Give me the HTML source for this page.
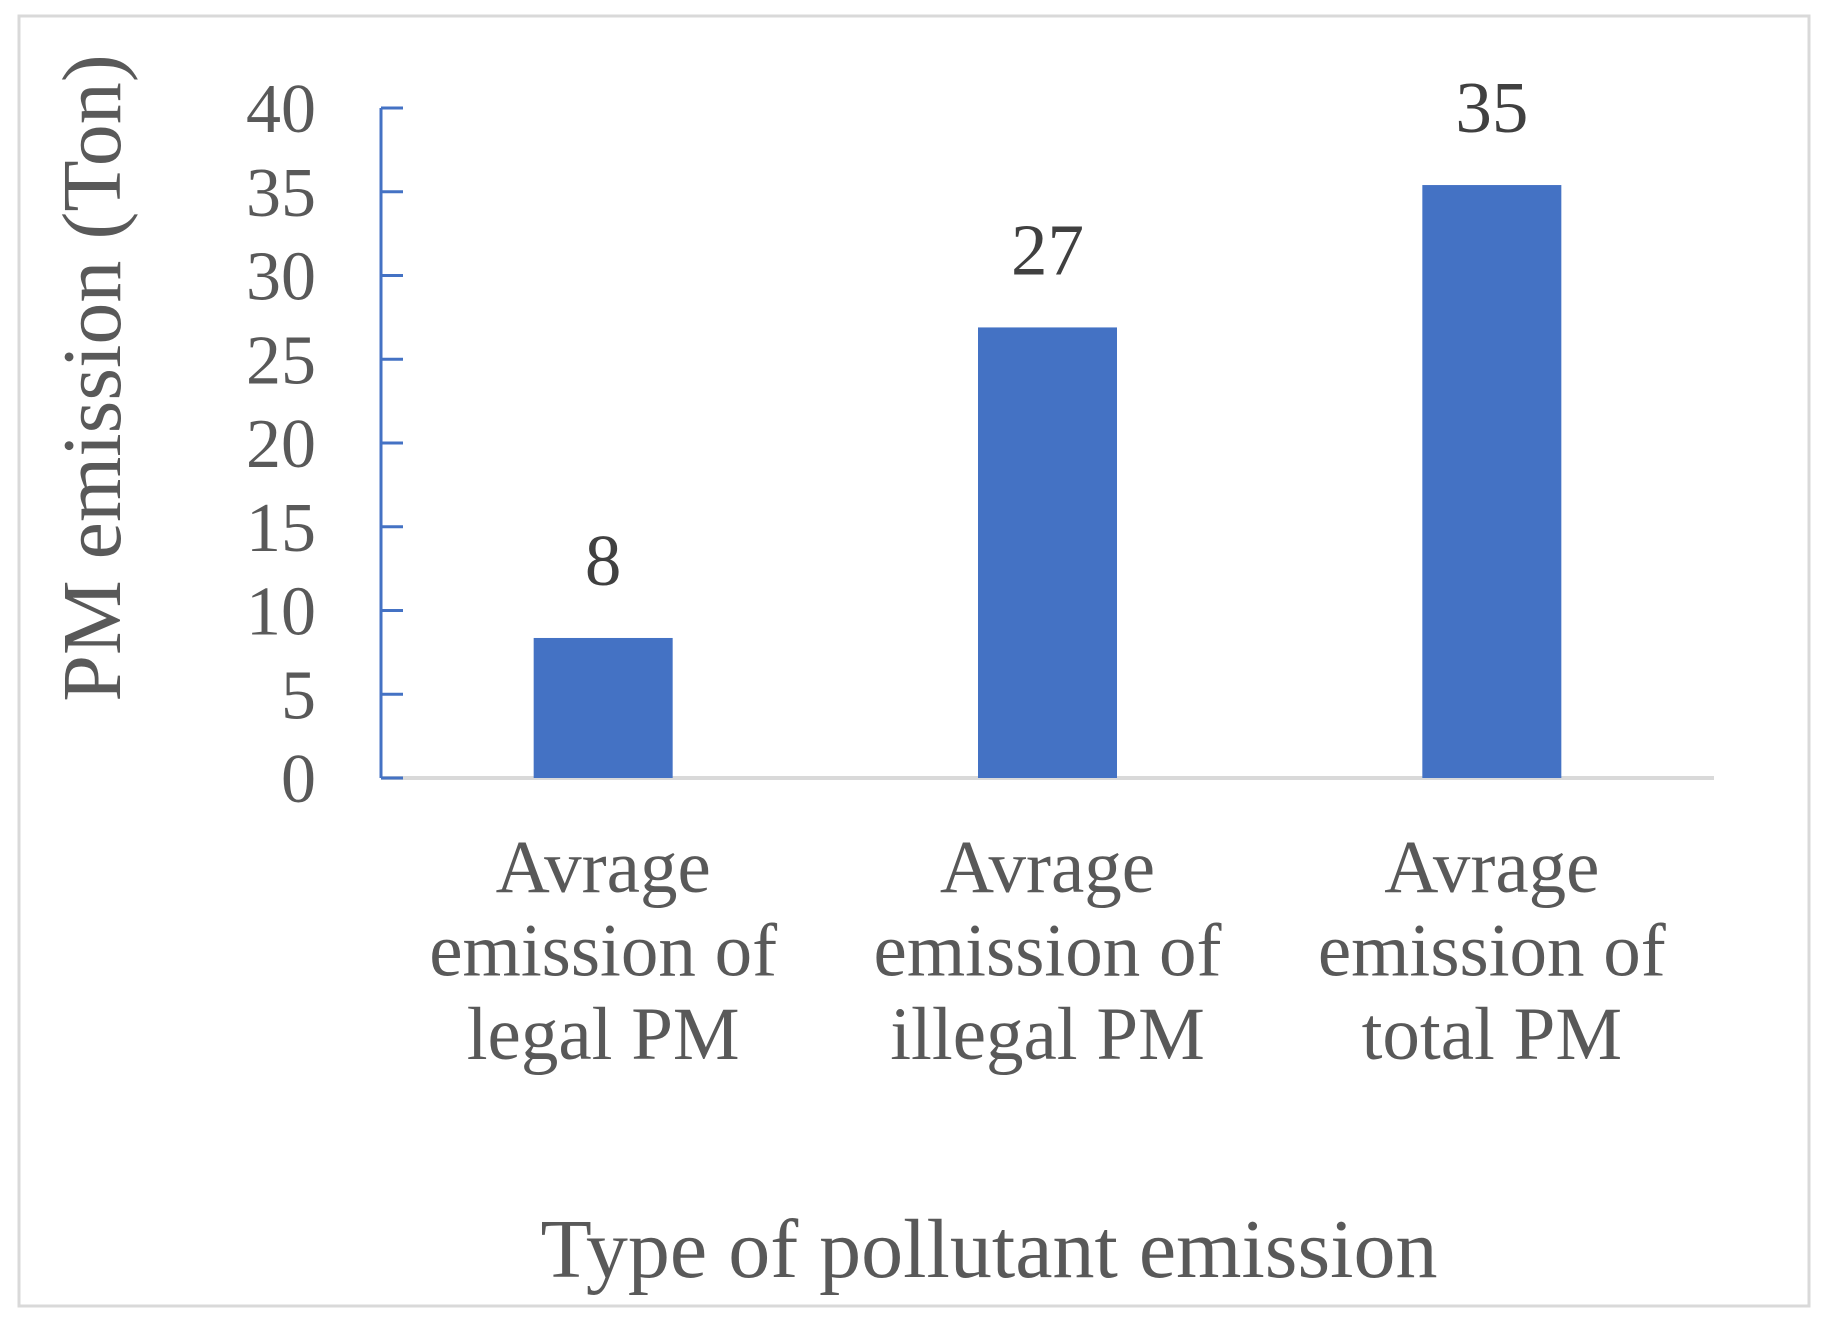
<!DOCTYPE html>
<html><head><meta charset="utf-8"><style>
html,body{margin:0;padding:0;background:#fff}
svg{display:block}
text{font-family:"Liberation Serif",serif}
</style></head><body>
<svg id="chart" width="1827" height="1323" viewBox="0 0 1827 1323">
<rect x="19" y="16" width="1790" height="1290" fill="#fff" stroke="#d9d9d9" stroke-width="3"/>
<g id="grid"></g>
<g id="bars"></g>
<g id="labels"></g>
<text x="0" y="0" transform="translate(120,378) rotate(-90)" text-anchor="middle" font-size="84" fill="#595959">PM emission (Ton)</text>
<text x="989" y="1277" text-anchor="middle" font-size="84" fill="#595959">Type of pollutant emission</text>
</svg>
<script>
const categories = [["Avrage","emission of","legal PM"],["Avrage","emission of","illegal PM"],["Avrage","emission of","total PM"]];
const values = [8.36, 26.9, 35.4];
const valueLabels = ["8","27","35"];
const yTicks = [0,5,10,15,20,25,30,35,40];

const NS="http://www.w3.org/2000/svg";
const x0=381, x1=1714, y0=778, yTop=108, yMax=40;
const yScale=v=>y0-(v/yMax)*(y0-yTop);
const band=(x1-x0)/categories.length;
const xCenter=i=>x0+band*(i+0.5);
const barW=139;
function mk(tag,attrs,parent){const e=document.createElementNS(NS,tag);for(const k in attrs)e.setAttribute(k,attrs[k]);parent.appendChild(e);return e;}
const grid=document.getElementById('grid'),bars=document.getElementById('bars'),labels=document.getElementById('labels');
const xa=mk('line',{x1:x0,x2:x1,y1:y0,y2:y0,stroke:'#d9d9d9','stroke-width':4},grid);


const ya=mk('line',{x1:x0,x2:x0,y1:yTop,y2:y0,stroke:'#4472c4','stroke-width':3},grid);


yTicks.forEach(t=>{
  const y=yScale(t);
  const tk=mk('line',{x1:x0,x2:x0+22,y1:y,y2:y,stroke:'#4472c4','stroke-width':3},grid);
  
  
  const tl=mk('text',{x:316,y:y+24,'text-anchor':'end','font-size':70,fill:'#595959'},labels);
  tl.textContent=t;
  
  
});
values.forEach((v,i)=>{
  const cx=xCenter(i);
  const b=mk('rect',{x:cx-barW/2,y:yScale(v),width:barW,height:y0-yScale(v),fill:'#4472c4'},bars);
  
  
  const dl=mk('text',{x:cx,y:yScale(v)-53,'text-anchor':'middle','font-size':73,fill:'#404040'},labels);
  dl.textContent=valueLabels[i];
  
  
  categories[i].forEach((ln,j)=>{
    const c=mk('text',{x:cx,y:892+j*83.5,'text-anchor':'middle','font-size':75,fill:'#595959'},labels);
    c.textContent=ln;
    
    
  });
});
</script>
</body></html>
